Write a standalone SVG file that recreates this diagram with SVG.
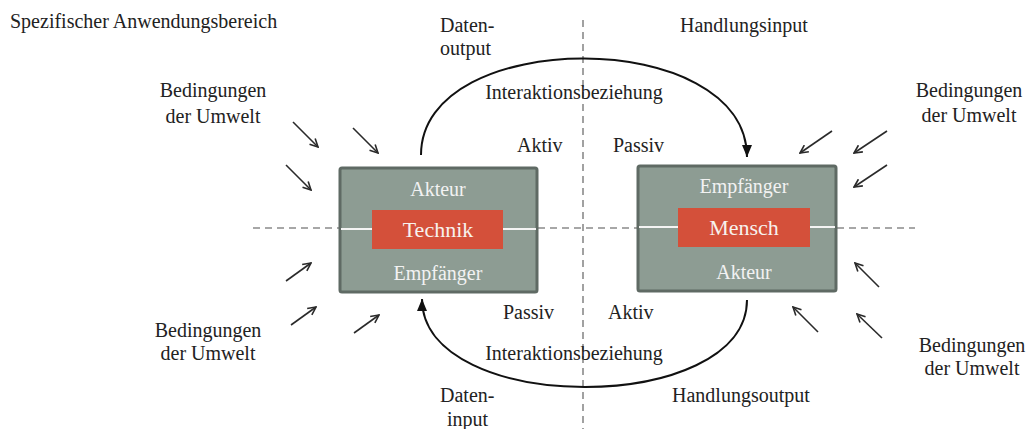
<svg xmlns="http://www.w3.org/2000/svg" width="1027" height="429" viewBox="0 0 1027 429">
  <style>
    text { font-family: "Liberation Serif", "Times New Roman", serif; font-size: 20px; fill: #222; }
    .box { fill: #8d9c93; stroke: #5f6a64; stroke-width: 3; }
    .core { fill: #d4503a; }
    .inner { fill: #f2f2f2; text-anchor: middle; }
    .core-label { fill: #f7f2ee; text-anchor: middle; font-size: 22px; }
    .mid { text-anchor: middle; }
    .axis { stroke: #8a8a8a; stroke-width: 1.6; stroke-dasharray: 7 5; fill: none; }
    .tie { stroke: #f4f4f4; stroke-width: 2; }
    .flow { stroke: #111; stroke-width: 2; fill: none; }
    .env { stroke: #2a2a2a; stroke-width: 1.6; fill: none; }
  </style>
  <defs>
    <marker id="head" viewBox="0 0 12 10" refX="12" refY="5" markerWidth="12" markerHeight="10" markerUnits="userSpaceOnUse" orient="auto">
      <path d="M0,0 L12,5 L0,10 Z" fill="#111"/>
    </marker>
    <marker id="open" viewBox="0 0 10 10" refX="9" refY="5" markerWidth="10" markerHeight="10" markerUnits="userSpaceOnUse" orient="auto">
      <path d="M1,1 L9,5 L1,9" fill="none" stroke="#2a2a2a" stroke-width="1.6"/>
    </marker>
  </defs>

  <rect width="1027" height="429" fill="#ffffff"/>

  <!-- axes -->
  <g id="axes">
    <line class="axis" x1="583" y1="20" x2="583" y2="429"/>
    <line class="axis" x1="253" y1="228" x2="340" y2="228"/>
    <line class="axis" x1="538" y1="228" x2="637" y2="228"/>
    <line class="axis" x1="837" y1="228" x2="915" y2="228"/>
  </g>

  <text x="10" y="28">Spezifischer Anwendungsbereich</text>

  <!-- Technik node -->
  <g id="node-technik">
    <rect class="box" x="340" y="168" width="197" height="124" rx="2"/>
    <line class="tie" x1="341" y1="229" x2="372" y2="229"/>
    <line class="tie" x1="503" y1="229" x2="536" y2="229"/>
    <rect class="core" x="372" y="210" width="131" height="39"/>
    <text class="inner" x="438" y="196">Akteur</text>
    <text class="core-label" x="438" y="237">Technik</text>
    <text class="inner" x="438" y="280">Empfänger</text>
  </g>

  <!-- Mensch node -->
  <g id="node-mensch">
    <rect class="box" x="638" y="166" width="198" height="125" rx="2"/>
    <line class="tie" x1="639" y1="227" x2="678" y2="227"/>
    <line class="tie" x1="810" y1="227" x2="835" y2="227"/>
    <rect class="core" x="678" y="208" width="132" height="39"/>
    <text class="inner" x="744" y="193">Empfänger</text>
    <text class="core-label" x="744" y="235">Mensch</text>
    <text class="inner" x="744" y="279">Akteur</text>
  </g>

  <!-- interaction connectors -->
  <g id="connectors">
    <path class="flow" d="M421,155 C421,26 747,26 747,157" marker-end="url(#head)"/>
    <path class="flow" d="M747,300 C747,416 422,416 422,299" marker-end="url(#head)"/>
  </g>

  <!-- labels around the connectors -->
  <g id="labels">
    <text x="440" y="32">Daten-</text>
    <text x="440" y="55">output</text>
    <text x="680" y="32">Handlungsinput</text>
    <text class="mid" x="574" y="99">Interaktionsbeziehung</text>
    <text x="517" y="152">Aktiv</text>
    <text x="613" y="152">Passiv</text>
    <text x="503" y="319">Passiv</text>
    <text x="608" y="319">Aktiv</text>
    <text class="mid" x="574" y="360">Interaktionsbeziehung</text>
    <text x="440" y="402">Daten-</text>
    <text x="447" y="426">input</text>
    <text x="672" y="402">Handlungsoutput</text>
  </g>

  <!-- environment influences -->
  <g id="env-top-left">
    <text class="mid" x="213" y="97">Bedingungen</text>
    <text class="mid" x="213" y="123">der Umwelt</text>
    <line class="env" x1="293" y1="122" x2="318" y2="147" marker-end="url(#open)"/>
    <line class="env" x1="353" y1="128" x2="378" y2="153" marker-end="url(#open)"/>
    <line class="env" x1="286" y1="165" x2="311" y2="190" marker-end="url(#open)"/>
  </g>
  <g id="env-bottom-left">
    <text class="mid" x="208" y="337">Bedingungen</text>
    <text class="mid" x="208" y="360">der Umwelt</text>
    <line class="env" x1="286" y1="281" x2="311" y2="263" marker-end="url(#open)"/>
    <line class="env" x1="291" y1="325" x2="316" y2="307" marker-end="url(#open)"/>
    <line class="env" x1="354" y1="333" x2="379" y2="315" marker-end="url(#open)"/>
  </g>
  <g id="env-top-right">
    <text class="mid" x="969" y="97">Bedingungen</text>
    <text class="mid" x="969" y="122">der Umwelt</text>
    <line class="env" x1="832" y1="131" x2="800" y2="153" marker-end="url(#open)"/>
    <line class="env" x1="887" y1="131" x2="854" y2="153" marker-end="url(#open)"/>
    <line class="env" x1="887" y1="165" x2="854" y2="187" marker-end="url(#open)"/>
  </g>
  <g id="env-bottom-right">
    <text class="mid" x="972" y="352">Bedingungen</text>
    <text class="mid" x="972" y="375">der Umwelt</text>
    <line class="env" x1="879" y1="287" x2="855" y2="263" marker-end="url(#open)"/>
    <line class="env" x1="818" y1="332" x2="793" y2="307" marker-end="url(#open)"/>
    <line class="env" x1="882" y1="338" x2="857" y2="314" marker-end="url(#open)"/>
  </g>
</svg>
